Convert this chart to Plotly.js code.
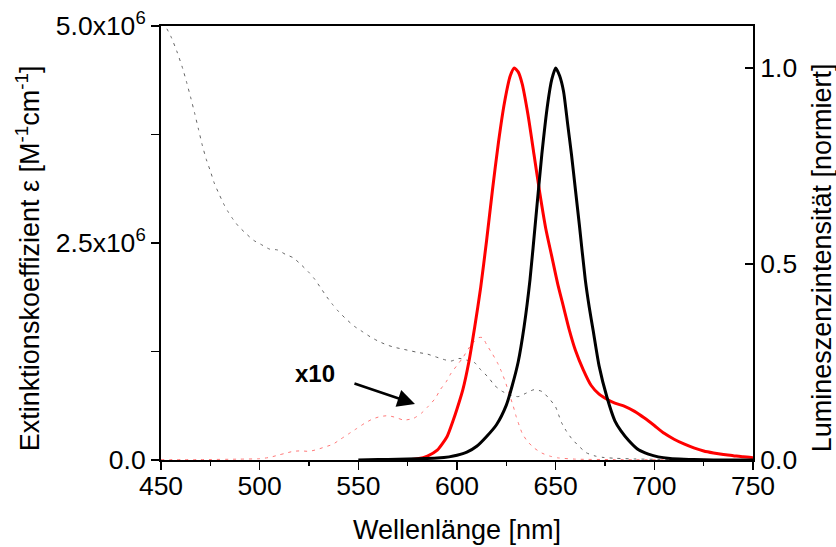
<!DOCTYPE html>
<html>
<head>
<meta charset="utf-8">
<script src="https://cdn.plot.ly/plotly-3.0.1.min.js"></script>
<style>html,body{margin:0;padding:0;background:#fff;}#chart{width:836px;height:547px;}</style>
</head>
<body>
<div id="chart"></div>
<script>
// Emission (normalized), red compound
var redEmWl = [575,580,585,590,595,598,600,603,606,609,612,615,618,621,624,627,629,631,633,636,639,642,645,648,651,654,657,660,664,668,672,676,680,685,690,695,700,705,710,715,720,725,730,735,740,745,750];
var redEmVal = [0,0.003,0.01,0.025,0.06,0.10,0.13,0.18,0.25,0.34,0.44,0.56,0.69,0.81,0.91,0.98,1.0,0.99,0.96,0.88,0.78,0.68,0.59,0.52,0.45,0.39,0.33,0.28,0.23,0.19,0.168,0.155,0.145,0.137,0.124,0.107,0.088,0.068,0.053,0.041,0.031,0.023,0.018,0.014,0.011,0.008,0.006];

// Emission (normalized), black compound
var blackEmWl = [550,560,570,580,590,596,600,605,610,615,620,625,628,631,634,637,640,643,646,648,650,652,654,656,658,660,662,665,667,669,672,676,680,683,687,692,697,702,708,715,720,730,740,750];
var blackEmVal = [0,0.001,0.002,0.003,0.005,0.008,0.012,0.02,0.035,0.06,0.09,0.14,0.19,0.25,0.34,0.46,0.62,0.78,0.91,0.97,1.0,0.98,0.94,0.86,0.78,0.69,0.60,0.46,0.39,0.33,0.24,0.16,0.10,0.075,0.05,0.026,0.015,0.008,0.004,0.002,0.001,0,0,0];

// Absorption (extinction coefficient), black compound
var blackAbsWl = [451,455,458,461,463,465,467,469,471,473,475,477,479.5,482,484,486,489,493,497,501,505,509,513,517,521,525,528,531,534,537,540,544,548,552,556,560,564,568,572,576,580,585,589,593,597,601,605,609,612,616,619,623,627,631,635,639,643,647,650,651.5,653,655.5,658,661.5,665.5,670,674,680,690,700,720,750];
var blackAbsVal = [5.05e6,4.88e6,4.71e6,4.51e6,4.35e6,4.18e6,4.00e6,3.81e6,3.62e6,3.46e6,3.33e6,3.19e6,3.06e6,2.94e6,2.86e6,2.79e6,2.70e6,2.61e6,2.53e6,2.48e6,2.43e6,2.42e6,2.37e6,2.33e6,2.25e6,2.16e6,2.08e6,1.98e6,1.88e6,1.79e6,1.71e6,1.62e6,1.54e6,1.48e6,1.42e6,1.37e6,1.33e6,1.30e6,1.28e6,1.26e6,1.24e6,1.22e6,1.19e6,1.16e6,1.14e6,1.17e6,1.15e6,1.12e6,1.04e6,0.95e6,0.86e6,0.79e6,0.75e6,0.73e6,0.77e6,0.81e6,0.79e6,0.70e6,0.61e6,0.52e6,0.43e6,0.33e6,0.25e6,0.165e6,0.084e6,0.046e6,0.03e6,0.02e6,0.012e6,0.008e6,0.004e6,0.002e6];

// Absorption (extinction coefficient x10), red compound
var redAbsWl = [450,470,490,500,505,510,513,517,521,525,529,533,537,541,545,549,553,557,561,565,569,573,578,582,585.5,589,591.5,594.5,597,600,603,606,608.5,611,613,615,618,620.5,622.5,624.5,626.5,628.5,630,631.5,633,635.5,639,643,647,651,660,680,750];
var redAbsVal = [0.005e6,0.005e6,0.01e6,0.015e6,0.03e6,0.06e6,0.077e6,0.10e6,0.105e6,0.10e6,0.12e6,0.15e6,0.18e6,0.24e6,0.30e6,0.36e6,0.42e6,0.47e6,0.50e6,0.51e6,0.49e6,0.46e6,0.48e6,0.54e6,0.62e6,0.71e6,0.81e6,0.90e6,1.00e6,1.09e6,1.18e6,1.29e6,1.36e6,1.41e6,1.41e6,1.33e6,1.22e6,1.12e6,1.02e6,0.90e6,0.76e6,0.62e6,0.50e6,0.40e6,0.31e6,0.22e6,0.14e6,0.08e6,0.045e6,0.025e6,0.01e6,0.005e6,0.003e6];

// Tick labels
var xTicks = [450,500,550,600,650,700,750];
var yLeftTicks = [0,2.5e6,5e6];
var yLeftText = ["0.0","2.5x10<sup>6</sup>","5.0x10<sup>6</sup>"];
var yRightTicks = [0,0.5,1.0];
var yRightText = ["0.0","0.5","1.0"];

var FONT = "Liberation Sans, Arial, sans-serif";
var TICK = 26.5, TITLE = 27;

var traces = [
  {x: blackAbsWl, y: blackAbsVal, type: 'scatter', mode: 'lines', yaxis: 'y',
   line: {color: 'rgb(100,100,100)', width: 1, dash: '3px,5px', shape: 'spline', smoothing: 0.6}},
  {x: redAbsWl, y: redAbsVal, type: 'scatter', mode: 'lines', yaxis: 'y',
   line: {color: 'rgb(255,120,120)', width: 1, dash: '3px,5px', shape: 'spline', smoothing: 0.6}},
  {x: redEmWl, y: redEmVal, type: 'scatter', mode: 'lines', yaxis: 'y2',
   line: {color: '#ff0000', width: 3, shape: 'spline', smoothing: 0.6}},
  {x: blackEmWl, y: blackEmVal, type: 'scatter', mode: 'lines', yaxis: 'y2',
   line: {color: '#000000', width: 3, shape: 'spline', smoothing: 0.6}}
];

var layout = {
  width: 836, height: 547,
  margin: {l: 161, r: 83, t: 26, b: 87},
  paper_bgcolor: '#fff', plot_bgcolor: '#fff',
  showlegend: false,
  font: {family: FONT, size: TICK, color: '#000'},
  xaxis: {
    range: [450, 750], tickmode: 'array', tickvals: xTicks,
    ticks: 'outside', ticklen: 8, tickwidth: 1.5, tickcolor: '#000',
    ticklabelstandoff: -7,
    minor: {tickmode: 'linear', tick0: 450, dtick: 25, ticks: 'outside', ticklen: 4, tickwidth: 1.5, tickcolor: '#000', showgrid: false},
    showline: true, linecolor: '#000', linewidth: 2, mirror: true,
    showgrid: false, zeroline: false,
    tickfont: {family: FONT, size: TICK},
    title: {text: 'Wellenlänge [nm]', font: {family: FONT, size: TITLE}, standoff: 20}
  },
  yaxis: {
    range: [0, 5e6], tickmode: 'array', tickvals: yLeftTicks, ticktext: yLeftText,
    ticks: 'outside', ticklen: 8, tickwidth: 1.5, tickcolor: '#000',
    minor: {tickmode: 'array', tickvals: [1.25e6, 3.75e6], ticks: 'outside', ticklen: 8, tickwidth: 1.5, tickcolor: '#000', showgrid: false},
    showline: true, linecolor: '#000', linewidth: 2,
    showgrid: false, zeroline: false,
    tickfont: {family: FONT, size: TICK}
  },
  yaxis2: {
    overlaying: 'y', side: 'right', anchor: 'x',
    range: [0, 1.107], tickmode: 'array', tickvals: yRightTicks, ticktext: yRightText,
    ticks: 'inside', ticklen: 8, tickwidth: 1.5, tickcolor: '#000',
    showline: true, linecolor: '#000', linewidth: 2,
    showgrid: false, zeroline: false,
    tickfont: {family: FONT, size: TICK}
  },
  annotations: [
    {xref: 'paper', yref: 'paper', x: -0.2247, y: 0.465, xanchor: 'center', yanchor: 'middle',
     text: 'Extinktionskoeffizient ε [M<sup>-1</sup>cm<sup>-1</sup>]', textangle: -90, showarrow: false,
     font: {family: FONT, size: TITLE, color: '#000'}},
    {xref: 'paper', yref: 'paper', x: 1.1166, y: 0.465, xanchor: 'center', yanchor: 'middle',
     text: 'Lumineszenzintensität [normiert]', textangle: -90, showarrow: false,
     font: {family: FONT, size: TITLE, color: '#000'}},
    {xref: 'x', yref: 'y', x: 578.7, y: 0.645e6, ax: -62, ay: -21, axref: 'pixel', ayref: 'pixel',
     text: '', showarrow: true, arrowhead: 2, arrowsize: 1.4, arrowwidth: 2.5, arrowcolor: '#000'},
    {xref: 'x', yref: 'y', x: 528, y: 1.0e6, text: '<b>x10</b>', showarrow: false,
     font: {family: FONT, size: 24, color: '#000'}}
  ]
};

Plotly.newPlot('chart', traces, layout, {displayModeBar: false, staticPlot: true});
</script>
</body>
</html>
